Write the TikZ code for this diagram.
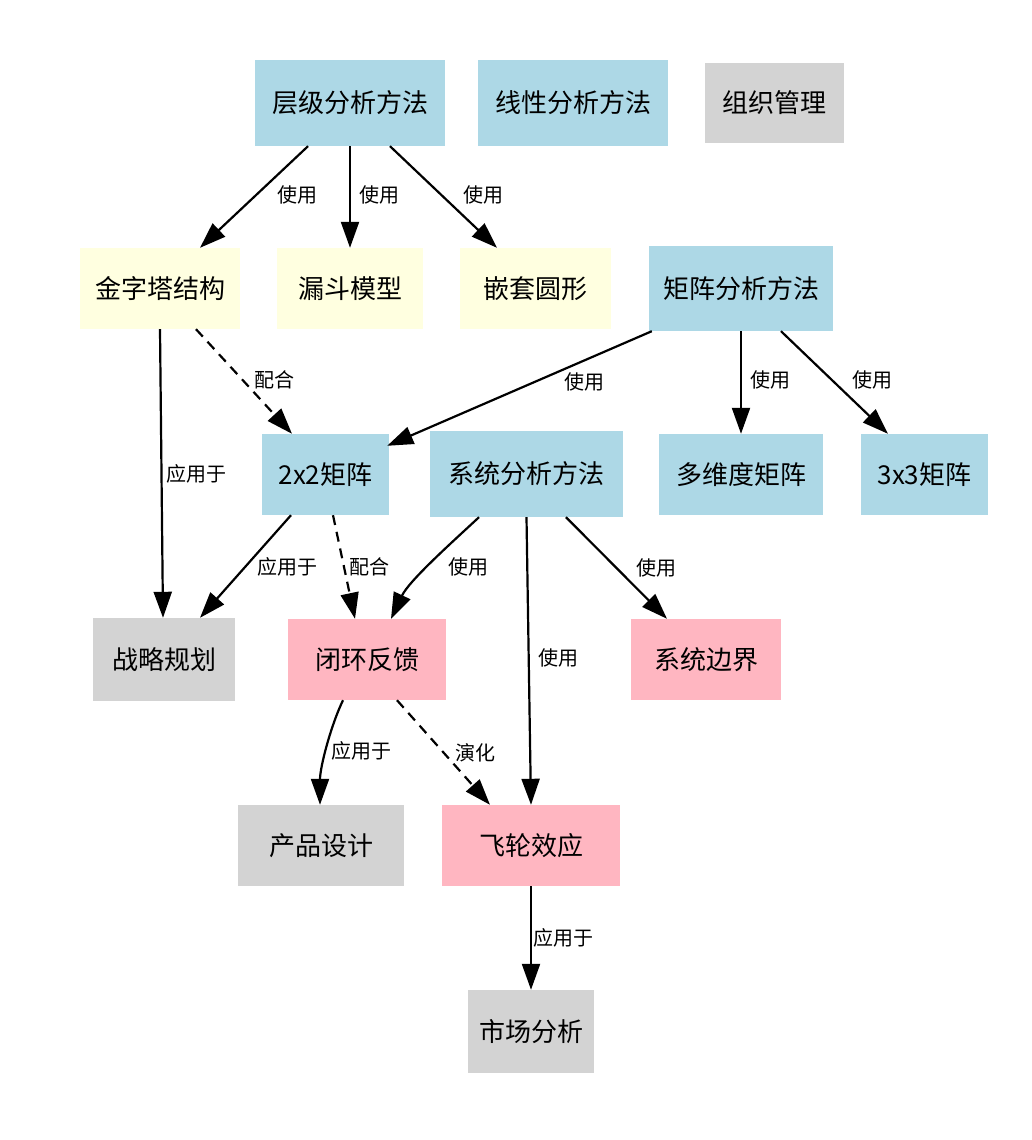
\documentclass[tikz,border=0pt]{standalone}
\usepackage{fontspec}
\setmainfont{Noto Sans CJK SC}
\usetikzlibrary{arrows.meta,calc}
\definecolor{cblue}{HTML}{ADD8E6}
\definecolor{cyellow}{HTML}{FFFFE0}
\definecolor{cgray}{HTML}{D3D3D3}
\definecolor{cpink}{HTML}{FFB6C1}
\begin{document}
\begin{tikzpicture}[x=1pt,y=-1pt,
  box/.style={inner sep=0pt, font=\fontsize{26}{30}\selectfont},
  bluebox/.style={box, fill=cblue},
  yellowbox/.style={box, fill=cyellow},
  graybox/.style={box, fill=cgray},
  pinkbox/.style={box, fill=cpink},
  edge/.style={line width=2.2pt, -{Triangle[length=26pt,width=18pt]}},
  dashedge/.style={edge, dash pattern=on 10pt off 7pt},
  lbl/.style={font=\fontsize{20}{24}\selectfont, inner sep=0pt}
]
\useasboundingbox (0,0) rectangle (1032,1140);
% nodes
\node[bluebox, minimum width=190pt, minimum height=86pt] (L1) at (350,103) {层级分析方法};
\node[bluebox, minimum width=190pt, minimum height=86pt] (L2) at (573,103) {线性分析方法};
\node[graybox, minimum width=139pt, minimum height=80pt] (ORG) at (774.5,103) {组织管理};
\node[yellowbox, minimum width=160pt, minimum height=81pt] (PYR) at (160,288.5) {金字塔结构};
\node[yellowbox, minimum width=146pt, minimum height=81pt] (FUN) at (350,288.5) {漏斗模型};
\node[yellowbox, minimum width=151pt, minimum height=81pt] (NEST) at (535.5,288.5) {嵌套圆形};
\node[bluebox, minimum width=184pt, minimum height=85pt] (MAT) at (741,288.5) {矩阵分析方法};
\node[bluebox, minimum width=127pt, minimum height=81pt] (M22) at (325.5,474.5) {2x2矩阵};
\node[bluebox, minimum width=193pt, minimum height=86pt] (SYS) at (526.5,474) {系统分析方法};
\node[bluebox, minimum width=164pt, minimum height=81pt] (MD) at (741,474.5) {多维度矩阵};
\node[bluebox, minimum width=127pt, minimum height=81pt] (M33) at (924.5,474.5) {3x3矩阵};
\node[graybox, minimum width=142pt, minimum height=83pt] (STR) at (164,659.5) {战略规划};
\node[pinkbox, minimum width=158pt, minimum height=81pt] (LOOP) at (367,659.5) {闭环反馈};
\node[pinkbox, minimum width=150pt, minimum height=81pt] (BND) at (706,659.5) {系统边界};
\node[graybox, minimum width=166pt, minimum height=81pt] (PROD) at (321,845.5) {产品设计};
\node[pinkbox, minimum width=178pt, minimum height=81pt] (FLY) at (531,845.5) {飞轮效应};
\node[graybox, minimum width=126pt, minimum height=83pt] (MKT) at (531,1031.5) {市场分析};
% edges
\draw[edge] ($(L1.south)+(-42,0)$) -- node[lbl, midway, xshift=43pt, yshift=2pt] {使用} ($(PYR.north)+(40,0)$);
\draw[edge] (L1.south) -- node[lbl, midway, xshift=29pt, yshift=2pt] {使用} (FUN.north);
\draw[edge] ($(L1.south)+(40,0)$) -- node[lbl, midway, xshift=39.5pt, yshift=2pt] {使用} ($(NEST.north)+(-38.5,0)$);
\draw[edge] (PYR.south) -- node[lbl, midway, xshift=34.5pt] {应用于} ($(STR.north)+(-1,0)$);
\draw[dashedge] ($(PYR.south)+(36,0)$) -- node[lbl, midway, xshift=30pt, yshift=1.5pt] {配合} ($(M22.north)+(-33.5,0)$);
\draw[edge] ($(MAT.south west)+(3,0)$) -- node[lbl, midway, xshift=64.5pt, yshift=6.5pt] {使用} ($(M22.north east)+(-2,12)$);
\draw[edge] (MAT.south) -- node[lbl, midway, xshift=29pt, yshift=2.5pt] {使用} (MD.north);
\draw[edge] ($(MAT.south)+(40,0)$) -- node[lbl, midway, xshift=37.5pt, yshift=2.5pt] {使用} ($(M33.north)+(-36.5,0)$);
\draw[edge] ($(M22.south)+(-34.5,0)$) -- node[lbl, midway, xshift=41.5pt] {应用于} ($(STR.north)+(36,0)$);
\draw[dashedge] ($(M22.south)+(7.5,0)$) -- node[lbl, midway, xshift=25.5pt] {配合} ($(LOOP.north)+(-12,0)$);
\draw[edge] ($(SYS.south)+(-47.5,0)$) .. controls +(-28,26) and +(18,-38) .. node[lbl, pos=0.5, xshift=37pt, yshift=-3pt] {使用} ($(LOOP.north)+(24,0)$);
\draw[edge] (SYS.south) -- node[lbl, midway, xshift=29.5pt, yshift=3pt] {使用} (FLY.north);
\draw[edge] ($(SYS.south)+(39.5,0)$) -- node[lbl, midway, xshift=39.5pt] {使用} ($(BND.north)+(-39,0)$);
\draw[edge] ($(LOOP.south)+(-24,0)$) .. controls +(-12,25) and +(0,-38) .. node[lbl, pos=0.5, xshift=34pt, yshift=-3pt] {应用于} ($(PROD.north)+(-1,0)$);
\draw[dashedge] ($(LOOP.south)+(30,0)$) -- node[lbl, midway, xshift=31.5pt] {演化} ($(FLY.north)+(-41,0)$);
\draw[edge] (FLY.south) -- node[lbl, midway, xshift=32pt] {应用于} (MKT.north);
\end{tikzpicture}
\end{document}
